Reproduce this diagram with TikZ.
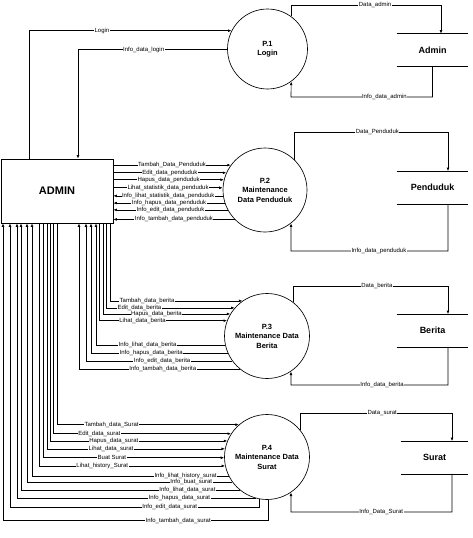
\documentclass[tikz,border=0pt]{standalone}
\usepackage{fontspec}
\setmainfont{Liberation Sans}
\usepackage{tikz}
\usetikzlibrary{arrows.meta}
\tikzstyle{proc}=[circle, draw, minimum size=85, inner sep=0pt, align=center, font=\fontsize{7.5}{9.5}\selectfont\bfseries]
\tikzstyle{store}=[minimum width=71, minimum height=32, inner sep=0pt, font=\fontsize{9}{10}\selectfont\bfseries]
\tikzstyle{lbl}=[fill=white, inner sep=0.5pt, font=\fontsize{6}{6.5}\selectfont]

\begin{document}
\begin{tikzpicture}[x=1pt, y=-1pt, line width=0.65pt, >={Latex[length=3.5pt,width=2.8pt]}]
        \useasboundingbox (0,0) rectangle (473,538);

        % Les nœuds
        \node[draw, minimum width=112, minimum height=64, font=\fontsize{11}{12}\selectfont\bfseries] (ADMIN) at (57,191) {ADMIN};
        \node[proc, minimum size=80] (P1) at (267.5,49) {P.1\\Login};
        \node[proc, minimum size=84] (P2) at (265,190) {P.2\\Maintenance\\Data Penduduk};
        \node[proc] (P3) at (267,336) {P.3\\Maintenance Data\\Berita};
        \node[proc] (P4) at (267,457) {P.4\\Maintenance Data\\Surat};
        \node[store] (admin) at (432.5,50) {Admin};
        \node[store] (penduduk) at (432.5,187.5) {Penduduk};
        \node[store] (berita) at (432.5,330.5) {Berita};
        \node[store, minimum width=67] (surat) at (434.5,457.5) {Surat};
        \foreach \s in {admin, penduduk, berita, surat}
            \draw (\s.north west) -- (\s.north east) (\s.south west) -- (\s.south east);

        % Login
        \draw[->] (ADMIN.north -| 29,0) |- (P1.153) node[lbl, pos=0.68] {Login};
        \draw[->] (P1.181) -| (ADMIN.north -| 78,0) node[lbl, pos=0.28] {Info\_data\_login};
        \draw[->] (P1.54) |- (441,5) node[lbl, pos=0.78] {Data\_admin} -- (admin.north -| 441,0);
        \draw[->] (admin.south) |- (291,97) node[lbl, pos=0.67] {Info\_data\_admin} -- (P1.306);

        % Penduduk
        \draw[->] (P2.144 -| ADMIN.east) -- (P2.144) node[lbl, midway] {Tambah\_Data\_Penduduk};
        \draw[->] (P2.156 -| ADMIN.east) -- (P2.156) node[lbl, midway] {Edit\_data\_penduduk};
        \draw[->] (P2.166 -| ADMIN.east) -- (P2.166) node[lbl, midway] {Hapus\_data\_penduduk};
        \draw[->] (P2.177 -| ADMIN.east) -- (P2.177) node[lbl, midway] {Lihat\_statistik\_data\_penduduk};
        \draw[->] (P2.188) -- (P2.188 -| ADMIN.east) node[lbl, midway] {Info\_lihat\_statistik\_data\_penduduk};
        \draw[->] (P2.198) -- (P2.198 -| ADMIN.east) node[lbl, midway] {Info\_hapus\_data\_penduduk};
        \draw[->] (P2.208) -- (P2.208 -| ADMIN.east) node[lbl, midway] {Info\_edit\_data\_penduduk};
        \draw[->] (P2.224) -- (P2.224 -| ADMIN.east) node[lbl, midway] {Info\_tambah\_data\_penduduk};
        \draw[->] (P2.46) |- (448,132) node[lbl, pos=0.77] {Data\_Penduduk} -- (penduduk.north -| 448,0);
        \draw[->] (penduduk.south -| 448,0) |- (291,251) node[lbl, pos=0.72] {Info\_data\_penduduk} -- (P2.308);

        % Berita
        \draw[->] (ADMIN.south -| 110,0) |- (P3.125) node[lbl, pos=0.64] {Tambah\_data\_berita};
        \draw[->] (ADMIN.south -| 106,0) |- (P3.139) node[lbl, pos=0.63] {Edit\_data\_berita};
        \draw[->] (ADMIN.south -| 103,0) |- (P3.149) node[lbl, pos=0.71] {Hapus\_data\_berita};
        \draw[->] (ADMIN.south -| 99,0) |- (P3.159) node[lbl, pos=0.67] {Lihat\_data\_berita};
        \draw[->] (P3.192) -| (ADMIN.south -| 96,0) node[lbl, pos=0.30] {Info\_lihat\_data\_berita};
        \draw[->] (P3.204) -| (ADMIN.south -| 91,0) node[lbl, pos=0.28] {Info\_hapus\_data\_berita};
        \draw[->] (P3.216) -| (ADMIN.south -| 86,0) node[lbl, pos=0.24] {Info\_edit\_data\_berita};
        \draw[->] (P3.231) -| (ADMIN.south -| 79,0) node[lbl, pos=0.24] {Info\_tambah\_data\_berita};
        \draw[->] (P3.52) |- (448,286) node[lbl, pos=0.77] {Data\_berita} -- (berita.north -| 448,0);
        \draw[->] (berita.south -| 448,0) |- (291,385) node[lbl, pos=0.71] {Info\_data\_berita} -- (P3.304);

        % Surat
        \draw[->] (ADMIN.south -| 57,0) |- (P4.131) node[lbl, pos=0.65] {Tambah\_data\_Surat};
        \draw[->] (ADMIN.south -| 53,0) |- (P4.147) node[lbl, pos=0.63] {Edit\_data\_surat};
        \draw[->] (ADMIN.south -| 50,0) |- (P4.158) node[lbl, pos=0.68] {Hapus\_data\_surat};
        \draw[->] (ADMIN.south -| 47,0) |- (P4.169) node[lbl, pos=0.68] {Lihat\_data\_surat};
        \draw[->] (ADMIN.south -| 43,0) |- (P4.181) node[lbl, pos=0.69] {Buat Surat};
        \draw[->] (ADMIN.south -| 39,0) |- (P4.192) node[lbl, pos=0.67] {Lihat\_history\_Surat};
        \draw[->] (P4.207) -| (ADMIN.south -| 32,0) node[lbl, pos=0.11] {Info\_lihat\_history\_surat};
        \draw[->] (P4.216) -| (ADMIN.south -| 27,0) node[lbl, pos=0.10] {Info\_buat\_surat};
        \draw[->] (P4.231) -| (ADMIN.south -| 21,0) node[lbl, pos=0.12] {Info\_lihat\_data\_surat};
        \draw[->] (P4.255) -| (ADMIN.south -| 17,0) node[lbl, pos=0.16] {Info\_hapus\_data\_surat};
        \draw[->] (P4.260) -- ++(0,8) -| (ADMIN.south -| 10,0) node[lbl, pos=0.18] {Info\_edit\_data\_surat};
        \draw[->] (P4.272) -- ++(0,21) -| (ADMIN.south -| 3,0) node[lbl, pos=0.17] {Info\_tambah\_data\_surat};
        \draw[->] (P4.39) |- (452,413) node[lbl, pos=0.77] {Data\_surat} -- (surat.north -| 452,0);
        \draw[->] (surat.south -| 452,0) |- (291,512) node[lbl, pos=0.72] {Info\_Data\_Surat} -- (P4.304);
    \end{tikzpicture}
\end{document}
